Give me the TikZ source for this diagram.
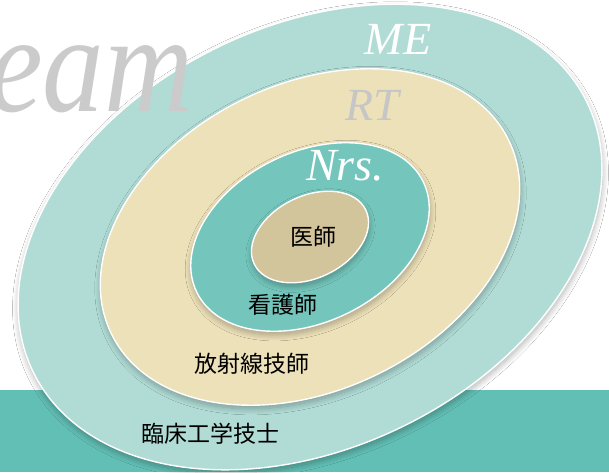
\documentclass[tikz,border=0pt]{standalone}
\usepackage{fontspec}
\setmainfont{Liberation Serif}
\newfontfamily\serit{Liberation Serif Italic}
\newfontfamily\jpfont{Noto Sans CJK JP}
\usetikzlibrary{shadows.blur}
\definecolor{meFill}{HTML}{B1DCD6}
\definecolor{rtFill}{HTML}{EDE1B9}
\definecolor{nrsFill}{HTML}{74C6BC}
\definecolor{drFill}{HTML}{D2C49B}
\definecolor{bandC}{HTML}{62BFB5}
\definecolor{bigGray}{HTML}{CBCBCB}
\definecolor{rtGray}{HTML}{C6C6C6}
\begin{document}
\begin{tikzpicture}[x=1pt,y=1pt,
  ring/.style={fill=#1, draw=white, line width=1.4pt,
    blur shadow={shadow xshift=0.5pt, shadow yshift=-3.6pt, shadow blur radius=6pt, shadow opacity=30, shadow blur steps=16}},
  jp/.style={font=\jpfont\fontsize{23}{23}\selectfont, text=black, inner sep=0pt},
  it/.style={font=\serit\fontsize{46}{46}\selectfont, inner sep=0pt}]
\useasboundingbox (0,0) rectangle (609,472);
\fill[white] (0,0) rectangle (609,472);
\fill[bandC] (0,0) rectangle (609,82);
\begin{scope}[shift={(310,235)}, rotate=26]
  \path[ring=meFill] (0,0) ellipse [x radius=308, y radius=211];
  \path[ring=rtFill] (0,0) ellipse [x radius=221, y radius=153];
  \path[ring=nrsFill] (0,0) ellipse [x radius=126, y radius=85];
  \path[ring=drFill] (0,0) ellipse [x radius=62, y radius=41];
\end{scope}
\begin{scope}[blend group=multiply]
  \node[anchor=base west, inner sep=0pt, text=bigGray, font=\serit\fontsize{140}{140}\selectfont] (team) at (-12,360) {\scalebox{0.88}[1]{eam}};
\end{scope}
\node[it, text=white] (me) at (398,433) {ME};
\node[it, text=rtGray] (rt) at (372,367) {RT};
\node[it, text=white] (nrs) at (345,306) {Nrs.};
\node[jp] (dr) at (313,235) {医師};
\node[jp] (ns) at (283,167) {看護師};
\node[jp] (rad) at (252,108) {放射線技師};
\node[jp] (ce) at (210,38) {臨床工学技士};
\end{tikzpicture}
\end{document}
